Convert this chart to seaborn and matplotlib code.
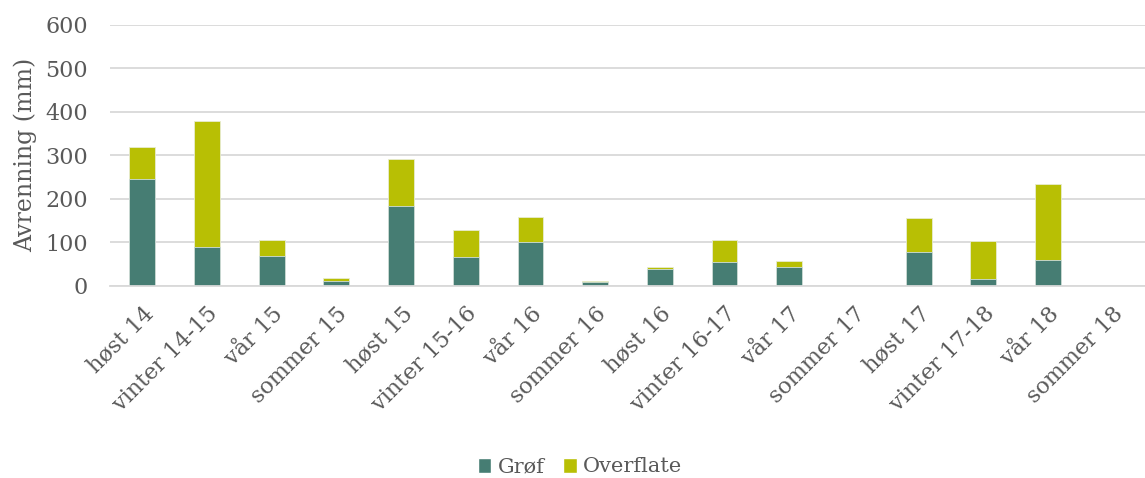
import matplotlib
matplotlib.use("Agg")
import matplotlib.pyplot as plt
import seaborn as sns
import pandas as pd
from matplotlib.patches import Patch

categories = ["høst 14", "vinter 14-15", "vår 15", "sommer 15", "høst 15", "vinter 15-16",
              "vår 16", "sommer 16", "høst 16", "vinter 16-17", "vår 17", "sommer 17",
              "høst 17", "vinter 17-18", "vår 18", "sommer 18"]
grof = [245, 89, 69, 12, 183, 66, 100, 10, 40, 55, 43, 0, 77, 16, 59, 0]
overflate = [74, 289, 37, 6, 108, 62, 58, 2, 4, 50, 15, 0, 78, 88, 176, 0]

c_grof = "#467d73"
c_over = "#b8bf04"
txt = "#595959"

sns.set_theme(style="white")
plt.rcParams['font.family'] = ['DejaVu Serif']

df = pd.DataFrame({"kat": categories, "Grøf": grof, "Overflate": overflate})
df["total"] = df["Grøf"] + df["Overflate"]

fig = plt.figure(figsize=(11.45, 4.78), dpi=100)
ax = fig.add_axes([110/1145, 1 - 286/478, 1035/1145, (286 - 24.7)/478])

sns.barplot(data=df, x="kat", y="total", color=c_over, width=0.4, ax=ax,
            saturation=1, edgecolor="#e8ecd0", linewidth=0.6)
sns.barplot(data=df, x="kat", y="Grøf", color=c_grof, width=0.4, ax=ax,
            saturation=1, edgecolor="#d0dedb", linewidth=0.6)

ax.set_ylim(0, 600)
ax.set_xlim(-0.5, 15.35)
ax.set_yticks([0, 100, 200, 300, 400, 500, 600])
ax.yaxis.grid(True, color="#d9d9d9", linewidth=1.3)
ax.set_axisbelow(True)
for s in ["top", "right", "left"]:
    ax.spines[s].set_visible(False)
ax.spines["bottom"].set_color("#d9d9d9")
ax.spines["bottom"].set_linewidth(1.3)

ax.set_xlabel("")
ax.set_ylabel("Avrenning (mm)", color=txt, fontsize=17)
ax.yaxis.set_label_coords(-0.0705, 0.5)
ax.tick_params(axis="y", colors=txt, labelsize=16, length=0, pad=16)
ax.set_xticks(range(len(categories)))
ax.set_xticklabels(categories, rotation=45, ha="right", rotation_mode="anchor",
                   color=txt, fontsize=16)
ax.tick_params(axis="x", length=0, pad=12)
# category boundary tick marks
ax.set_xticks([i - 0.5 for i in range(len(categories) + 1)], minor=True)
ax.tick_params(axis="x", which="minor", length=6, color="#d9d9d9", width=1.3)

handles = [Patch(facecolor=c_grof, label="Grøf"), Patch(facecolor=c_over, label="Overflate")]
fig.legend(handles=handles, loc="center", bbox_to_anchor=(580/1145, 1 - 467/478), ncol=2,
           frameon=False, fontsize=15, labelcolor=txt, handlelength=0.65, handleheight=0.75,
           handletextpad=0.3, columnspacing=0.9)

fig.savefig("out.png", dpi=100)
